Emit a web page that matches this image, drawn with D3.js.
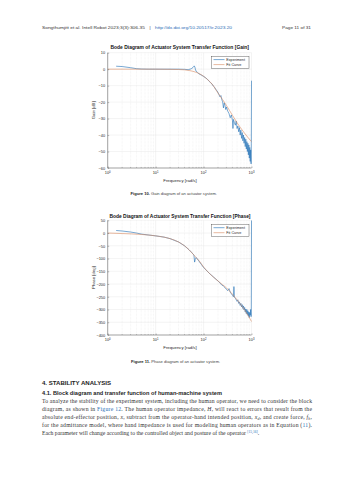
<!DOCTYPE html>
<html><head><meta charset="utf-8">
<script src="https://cdn.jsdelivr.net/npm/d3@7"></script>
<style>body{margin:0;background:#fff}svg{display:block}</style>
</head><body><svg id="c" width="353" height="480"></svg>
<script>
// ---------- data ----------
const decadeTicks = [1, 10, 100, 1000];
const decadeExponents = ["0", "1", "2", "3"];
const gainTicks = [10, 0, -10, -20, -30, -40, -50, -60];
const phaseTicks = [50, 0, -50, -100, -150, -200, -250, -300, -350, -400];
const seriesNames = ["Experiment", "Fit Curve"];

const fitFreq = [1, 2, 5, 10, 20, 30, 40, 50, 60, 70, 80, 100, 120, 150, 200, 250, 300, 400, 500, 700, 1000];
const fitGain = [0, 0, 0, 0, -0.1, -0.2, -0.4, -0.8, -1.3, -1.9, -2.6, -4.3, -6.2, -9.0, -14.5, -18.5, -22.0, -28.0, -32.5, -38.5, -44.0];
const fitPhase = [0, -2, -5.5, -11, -22, -35, -50, -66, -82, -96, -108, -133, -150, -168, -188, -203, -215, -240, -262, -298, -347];

const expGainFreq = [1.5, 2, 3, 4, 5, 7, 10, 15, 20, 30, 40, 48, 55, 60, 64, 66, 68, 70, 75, 80, 90, 100, 110, 120, 130, 140, 150, 160, 170, 180, 190, 200, 210, 220, 230, 240, 250, 260, 270, 280, 290, 300, 320, 340, 360, 380, 400, 410, 420, 440, 460, 480, 500, 520, 540, 560, 580, 600, 620, 640, 660, 680, 700, 720, 740, 760, 780, 800, 820, 840, 860, 880, 900, 920, 940, 960, 980, 990, 1000];
const expGain = [1.8, 1.6, 0.9, 0.3, 0.1, 0, 0, 0, 0, 0, -0.1, -0.3, 0.2, 1.0, 2.0, 1.2, -0.5, -1.2, -2.0, -2.8, -3.6, -4.4, -5.2, -6.1, -7.3, -8.2, -9.0, -10.3, -11.0, -12.4, -13.0, -14.2, -15.5, -16.8, -16.0, -18.5, -19.8, -23.5, -20.5, -22.0, -24.5, -23.0, -25.5, -27.0, -29.5, -27.8, -31.0, -36.0, -30.5, -32.5, -34.0, -31.5, -36.0, -34.5, -38.0, -35.5, -40.0, -37.0, -42.0, -38.5, -43.5, -40.0, -45.0, -41.5, -47.0, -42.5, -48.5, -44.0, -50.0, -45.0, -52.0, -46.0, -54.0, -47.5, -56.0, -49.0, -57.5, -45.0, -7.0];

const expPhaseFreq = [1.5, 2, 3, 4, 5, 7, 10, 15, 20, 30, 40, 50, 55, 60, 63, 65, 67, 70, 80, 100, 130, 160, 200, 220, 240, 260, 280, 300, 320, 340, 360, 380, 400, 420, 430, 440, 460, 480, 500, 520, 540, 560, 580, 600, 620, 640, 660, 680, 700, 720, 740, 760, 780, 800, 820, 840, 860, 880, 900, 920, 940, 960, 980, 990, 1000];
const expPhase = [10, 8, 4, 0, -4, -7.5, -11, -16, -22, -35, -50, -66, -74, -82, -86, -114, -104, -96, -110, -135, -157, -172, -188, -196, -204, -208, -214, -221, -226, -218, -232, -238, -244, -250, -210, -252, -256, -262, -268, -262, -276, -270, -284, -276, -290, -281, -296, -286, -302, -292, -310, -298, -316, -300, -320, -305, -326, -310, -332, -312, -322, -300, -328, -290, 50];

// ---------- style ----------
const SANS = "'Liberation Sans', Arial, sans-serif";
const SERIF = "'Liberation Serif', 'DejaVu Serif', serif";
const AX = "#262626";
const BLUE = "#1f6fb5";
const ORANGE = "#d98a5f";

const svg = d3.select("#c");
svg.append("rect").attr("width", 353).attr("height", 480).attr("fill", "#fff");

// ---------- page header ----------
const hdr = svg.append("g").attr("font-family", SANS).attr("font-size", 4.3).attr("fill", "#333");
hdr.append("text").attr("x", 42).attr("y", 28.8).attr("textLength", 103).attr("lengthAdjust", "spacingAndGlyphs")
  .text("Songthumjitt et al. Intell Robot 2023;3(3):306-35");
hdr.append("text").attr("x", 149.5).attr("y", 28.8).text("|");
hdr.append("text").attr("x", 155).attr("y", 28.8).attr("fill", "#2a6db5").attr("textLength", 77).attr("lengthAdjust", "spacingAndGlyphs")
  .text("http://dx.doi.org/10.20517/ir.2023.20");
hdr.append("text").attr("x", 282).attr("y", 28.8).attr("textLength", 29).attr("lengthAdjust", "spacingAndGlyphs")
  .text("Page 11 of 31");

// ---------- chart drawer ----------
let clipId = 0;
function drawBode(o) {
  const x = d3.scaleLog().domain([1, 1000]).range([107.7, 251.5]);
  const y = d3.scaleLinear().domain(o.domain).range([o.bottom, o.top]);
  const g = svg.append("g");

  // grid
  const minor = [];
  [1, 10, 100].forEach(d => { for (let k = 2; k <= 9; k++) minor.push(d * k); });
  g.append("g").selectAll("line").data(minor).join("line")
    .attr("x1", d => x(d)).attr("x2", d => x(d)).attr("y1", o.top).attr("y2", o.bottom)
    .attr("stroke", "#d8d8d8").attr("stroke-width", 0.35).attr("stroke-dasharray", "0.6,0.8");
  g.append("g").selectAll("line").data(decadeTicks).join("line")
    .attr("x1", d => x(d)).attr("x2", d => x(d)).attr("y1", o.top).attr("y2", o.bottom)
    .attr("stroke", "#e2e2e2").attr("stroke-width", 0.4);
  g.append("g").selectAll("line").data(o.ticks).join("line")
    .attr("x1", x(1)).attr("x2", x(1000)).attr("y1", d => y(d)).attr("y2", d => y(d))
    .attr("stroke", "#e2e2e2").attr("stroke-width", 0.4);

  // clip
  const cid = "clip" + (clipId++);
  svg.append("clipPath").attr("id", cid).append("rect")
    .attr("x", x(1)).attr("y", o.top).attr("width", x(1000) - x(1) + 0.6).attr("height", o.bottom - o.top);

  const line = d3.line().x(d => x(d[0])).y(d => y(d[1]));
  const plot = g.append("g").attr("clip-path", `url(#${cid})`);
  plot.append("path").datum(o.expF.map((f, i) => [f, o.expV[i]]))
    .attr("d", line).attr("fill", "none").attr("stroke", BLUE).attr("stroke-width", 0.6).attr("stroke-linejoin", "round");
  plot.append("path").datum(fitFreq.map((f, i) => [f, o.fitV[i]]))
    .attr("d", d3.line().curve(d3.curveMonotoneX).x(d => x(d[0])).y(d => y(d[1])))
    .attr("fill", "none").attr("stroke", ORANGE).attr("stroke-width", 0.6);

  // axes
  const ya = d3.axisLeft(y).tickValues(o.ticks).tickSize(-1.5).tickPadding(2.5);
  const yg = g.append("g").attr("transform", `translate(${x(1)},0)`).call(ya);
  yg.select(".domain").attr("stroke", AX).attr("stroke-width", 0.4).attr("d", `M0,${o.top}V${o.bottom}`);
  yg.selectAll(".tick line").attr("stroke", AX).attr("stroke-width", 0.3);
  yg.selectAll("text").attr("font-family", SANS).attr("font-size", 3.9).attr("fill", AX);

  const xa = d3.axisBottom(x).tickValues(decadeTicks).tickSize(-1.5).tickFormat(() => "");
  const xg = g.append("g").attr("transform", `translate(0,${o.bottom})`).call(xa);
  xg.select(".domain").attr("stroke", AX).attr("stroke-width", 0.4).attr("d", `M${x(1)},0H${x(1000)}`);
  xg.selectAll(".tick line").attr("stroke", AX).attr("stroke-width", 0.3);
  xg.append("g").selectAll("line").data(minor).join("line")
    .attr("x1", d => x(d)).attr("x2", d => x(d)).attr("y1", 0).attr("y2", -0.8)
    .attr("stroke", AX).attr("stroke-width", 0.25);
  const lab = g.append("g").selectAll("text").data(decadeTicks).join("text")
    .attr("x", d => x(d)).attr("y", o.bottom + 6.3).attr("text-anchor", "middle")
    .attr("font-family", SANS).attr("font-size", 3.9).attr("fill", AX);
  lab.append("tspan").text("10");
  lab.append("tspan").attr("dy", -1.6).attr("font-size", 2.8).text((d, i) => decadeExponents[i]);

  // labels
  g.append("text").attr("x", 180).attr("y", o.bottom + 13.5).attr("text-anchor", "middle")
    .attr("font-family", SANS).attr("font-size", 4.3).attr("fill", AX).text("Frequency [rad/s]");
  g.append("text").attr("transform", `translate(94.8,${(o.top + o.bottom) / 2}) rotate(-90)`).attr("text-anchor", "middle")
    .attr("font-family", SANS).attr("font-size", 4.3).attr("fill", AX).text(o.ylabel);
  g.append("text").attr("x", o.titleX).attr("y", o.titleY).attr("textLength", o.titleW).attr("lengthAdjust", "spacingAndGlyphs")
    .attr("font-family", SANS).attr("font-weight", "bold").attr("font-size", 4.9).attr("fill", "#111").text(o.title);

  // legend
  const lg = g.append("g");
  lg.append("rect").attr("x", 211.7).attr("y", o.legTop).attr("width", 37.3).attr("height", 12)
    .attr("fill", "#fff").attr("stroke", AX).attr("stroke-width", 0.35);
  const cols = [BLUE, ORANGE];
  seriesNames.forEach((n, i) => {
    const yy = o.legTop + 3.4 + i * 5;
    lg.append("line").attr("x1", 213.5).attr("x2", 224.5).attr("y1", yy).attr("y2", yy)
      .attr("stroke", cols[i]).attr("stroke-width", 0.6);
    lg.append("text").attr("x", 226.3).attr("y", yy + 1.3).attr("font-family", SANS).attr("font-size", 3.7)
      .attr("fill", AX).text(n);
  });

  // caption
  const cap = g.append("text").attr("x", o.capX).attr("y", o.capY).attr("font-family", SANS)
    .attr("font-size", 4.1).attr("fill", "#444");
  cap.append("tspan").attr("font-weight", "bold").attr("fill", "#222").text(o.capBold + " ");
  cap.append("tspan").text(o.capText);
}

drawBode({
  domain: [-60, 10], top: 52.7, bottom: 168, ticks: gainTicks,
  expF: expGainFreq, expV: expGain, fitV: fitGain,
  ylabel: "Gain [dB]",
  title: "Bode Diagram of Actuator System Transfer Function [Gain]", titleX: 110.5, titleY: 49.2, titleW: 138.5,
  legTop: 56.2,
  capX: 130.5, capY: 194.8, capBold: "Figure 10.", capText: "Gain diagram of an actuator system."
});
drawBode({
  domain: [-400, 50], top: 220.3, bottom: 335, ticks: phaseTicks,
  expF: expPhaseFreq, expV: expPhase, fitV: fitPhase,
  ylabel: "Phase [deg]",
  title: "Bode Diagram of Actuator System Transfer Function [Phase]", titleX: 109.5, titleY: 217.5, titleW: 141,
  legTop: 224.3,
  capX: 131, capY: 363.2, capBold: "Figure 11.", capText: "Phase diagram of an actuator system."
});

// ---------- body text ----------
const body = svg.append("g");
body.append("text").attr("x", 42).attr("y", 384.6).attr("font-family", SANS).attr("font-weight", "bold")
  .attr("font-size", 5.6).attr("fill", "#222").attr("textLength", 69).attr("lengthAdjust", "spacingAndGlyphs")
  .text("4. STABILITY ANALYSIS");
body.append("text").attr("x", 42).attr("y", 394.5).attr("font-family", SANS).attr("font-weight", "bold")
  .attr("font-size", 5.1).attr("fill", "#222").attr("textLength", 180).attr("lengthAdjust", "spacingAndGlyphs")
  .text("4.1. Block diagram and transfer function of human-machine system");

const lineY = [402.6, 410.9, 419.0, 427.3, 435.0];
function para(i, full) {
  const t = body.append("text").attr("x", 42).attr("y", lineY[i]).attr("font-family", SERIF)
    .attr("font-size", 5.7).attr("fill", "#333");
  if (full) t.attr("textLength", 270).attr("lengthAdjust", "spacing");
  return t;
}
para(0, true).text("To analyze the stability of the experiment system, including the human operator, we need to consider the block");
let t = para(1, true);
t.append("tspan").text("diagram, as shown in ");
t.append("tspan").attr("fill", "#2a6db5").text("Figure 12");
t.append("tspan").text(". The human operator impedance, ");
t.append("tspan").attr("font-style", "italic").text("H");
t.append("tspan").text(", will react to errors that result from the");
t = para(2, true);
t.append("tspan").text("absolute end-effector position, ");
t.append("tspan").attr("font-style", "italic").text("x");
t.append("tspan").text(", subtract from the operator-hand intended position, ");
t.append("tspan").attr("font-style", "italic").text("x");
t.append("tspan").attr("font-style", "italic").attr("font-size", 4).attr("dy", 1).text("d");
t.append("tspan").attr("dy", -1).text(", and create force, ");
t.append("tspan").attr("font-style", "italic").text("f");
t.append("tspan").attr("font-style", "italic").attr("font-size", 4).attr("dy", 1).text("h");
t.append("tspan").attr("dy", -1).text(",");
t = para(3, true);
t.append("tspan").text("for the admittance model, where hand impedance is used for modeling human operators as in Equation (");
t.append("tspan").attr("fill", "#2a6db5").text("11");
t.append("tspan").text(").");
t = para(4, false);
t.append("tspan").text("Each parameter will change according to the controlled object and posture of the operator ");
t.append("tspan").attr("fill", "#2a6db5").attr("font-size", 3.6).attr("dy", -2).text("[15,16]");
t.append("tspan").attr("dy", 2).text(".");
</script></body></html>
